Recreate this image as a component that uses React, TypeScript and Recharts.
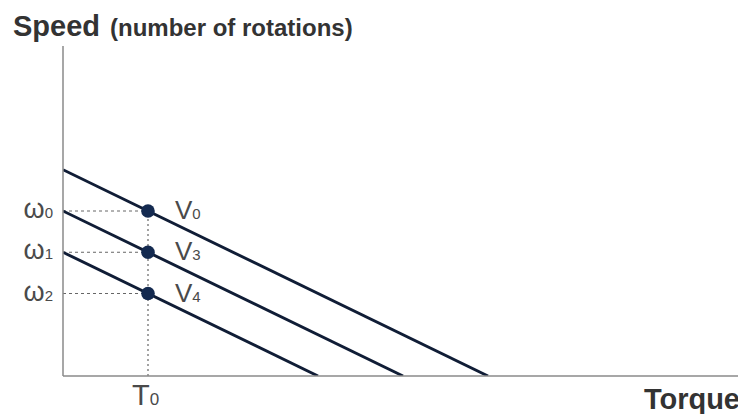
import { ComposedChart, Line, Scatter, XAxis, YAxis, ReferenceLine, Label } from 'recharts';

// motor speed–torque lines for three drive voltages
const operatingTorque = 1;           // T0
const voltageNames = ['0', '3', '4']; // V0, V3, V4
const noLoadSpeeds = [5, 4, 3];       // speed at zero torque
const stallTorques = [5, 4, 3];       // torque at zero speed
const operatingSpeeds = [4, 3, 2];    // ω0, ω1, ω2 at T0
const speedTickNames = ['0', '1', '2'];

const torqueDomain = [0, 8];
const speedDomain = [0, 8];

const lineColor = '#101d36';
const dotColor = '#142a50';
const axisColor = '#8a8a8a';
const labelColor = '#4a4a4a';
const labelFont = "'Liberation Sans Narrow', 'Liberation Sans', Arial, sans-serif";
const titleFont = "'Liberation Sans', Arial, sans-serif";

const voltageLines = noLoadSpeeds.map((s, i) => [
    { torque: 0, speed: s },
    { torque: stallTorques[i], speed: 0 },
]);

const points = operatingSpeeds.map((s, i) => ({
    torque: operatingTorque,
    speed: s,
    name: voltageNames[i],
}));

const SpeedTick = ({ x, y, index }: any) => (
    <text x={x - 2} y={y} dy={7} textAnchor="end" fill={labelColor} fontFamily={titleFont} fontSize={27}>
        ω<tspan fontFamily={labelFont} fontSize={15}>{speedTickNames[index]}</tspan>
    </text>
);

const TorqueTick = ({ x, y }: any) => (
    <text x={x - 16} y={y} dy={21} fill={labelColor} fontFamily={labelFont} fontSize={29}>
        T<tspan fontSize={17}>0</tspan>
    </text>
);

const PointWithLabel = ({ cx, cy, payload }: any) => (
    <g>
        <circle cx={cx} cy={cy} r={6.8} fill={dotColor} />
        <text x={cx + 27} y={cy} dy={8} fill={labelColor} fontFamily={labelFont} fontSize={26}>
            V<tspan fontSize={15}>{payload.name}</tspan>
        </text>
    </g>
);

const SpeedTitle = ({ viewBox }: any) => (
    <text x={viewBox.x + 5} y={viewBox.y - 10} fill="#333" fontFamily={titleFont} fontWeight="bold">
        <tspan fontSize={29}>Speed</tspan>
        <tspan fontSize={24} dx={10}>(number of rotations)</tspan>
    </text>
);

const TorqueTitle = ({ viewBox }: any) => (
    <text x={viewBox.x + viewBox.width - 3} y={viewBox.y + 33} textAnchor="end" fill="#333"
        fontFamily={titleFont} fontWeight="bold" fontSize={29}>
        Torque
    </text>
);

export default function App() {
    return (
        <ComposedChart width={738} height={406} margin={{ top: 38, right: 3, bottom: 0, left: 0 }}>
            <XAxis type="number" dataKey="torque" domain={torqueDomain} ticks={[operatingTorque]}
                height={38} stroke={axisColor} strokeWidth={1.5} tickLine={false} tick={<TorqueTick />}
                allowDataOverflow>
                <Label content={<TorqueTitle />} />
            </XAxis>
            <YAxis type="number" dataKey="speed" domain={speedDomain} ticks={operatingSpeeds}
                width={55} stroke={axisColor} strokeWidth={1.5} tickLine={false} tick={<SpeedTick />}
                allowDataOverflow>
                <Label content={<SpeedTitle />} />
            </YAxis>
            {operatingSpeeds.map((s, i) => (
                <ReferenceLine key={`h${i}`} segment={[{ x: 0, y: s }, { x: operatingTorque, y: s }]}
                    stroke="#666" strokeDasharray="3 3" strokeWidth={1} />
            ))}
            <ReferenceLine segment={[{ x: operatingTorque, y: 0 }, { x: operatingTorque, y: operatingSpeeds[0] }]}
                stroke="#666" strokeDasharray="2 3" strokeWidth={1.2} />
            {voltageLines.map((d, i) => (
                <Line key={i} data={d} dataKey="speed" type="linear" stroke={lineColor} strokeWidth={2.9}
                    dot={false} activeDot={false} isAnimationActive={false} />
            ))}
            <Scatter data={points} dataKey="speed" shape={<PointWithLabel />} isAnimationActive={false} />
        </ComposedChart>
    );
}
